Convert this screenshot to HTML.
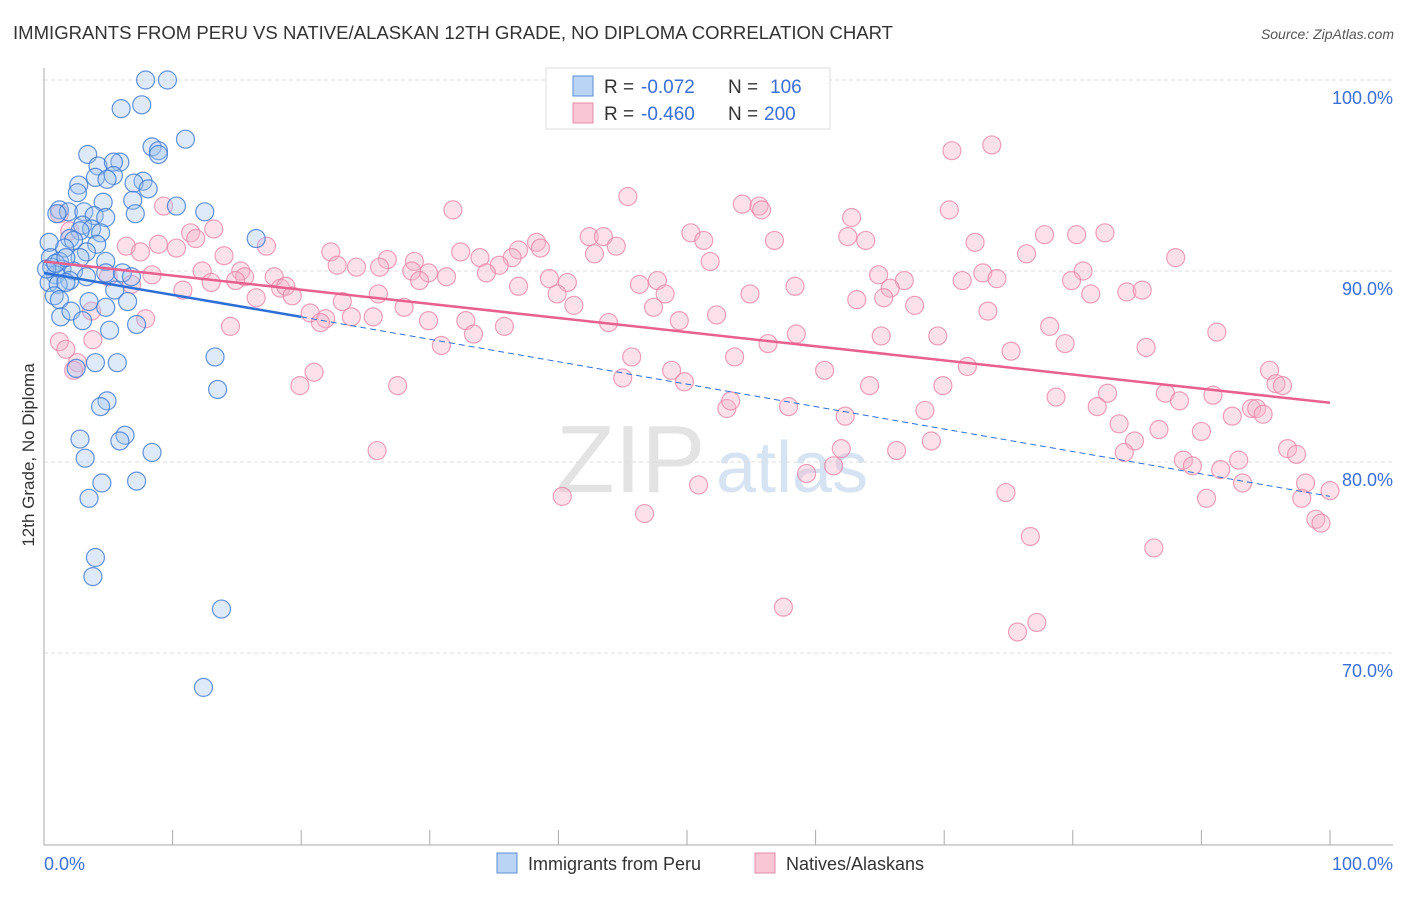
<!DOCTYPE html>
<html><head><meta charset="utf-8"><style>
body{margin:0;background:#fff;font-family:"Liberation Sans",sans-serif;}
svg text{font-family:"Liberation Sans",sans-serif;}
</style></head><body>
<svg id="chart" width="1406" height="892" xmlns="http://www.w3.org/2000/svg">
<text x="13" y="39" font-size="18.5" fill="#333" textLength="880" lengthAdjust="spacingAndGlyphs">IMMIGRANTS FROM PERU VS NATIVE/ALASKAN 12TH GRADE, NO DIPLOMA CORRELATION CHART</text>
<text x="1394" y="39" font-size="14" fill="#555" font-style="italic" text-anchor="end">Source: ZipAtlas.com</text>
<text x="556" y="492" font-size="96" fill="#e3e3e3" font-family="Liberation Serif">ZIP</text>
<text x="716" y="492" font-size="72" fill="#d5e3f3">atlas</text>
<g id="grid"></g>
<g id="axes"></g>
<g id="pink"></g>
<g id="blue"></g>
<g id="trends"></g>
<text transform="translate(34,455) rotate(-90)" font-size="17" fill="#333" text-anchor="middle">12th Grade, No Diploma</text>
<g>
<rect x="546" y="68" width="284" height="61" fill="#fff" stroke="#ddd"/>
<rect x="573" y="76" width="20" height="20" fill="#b9d4f5" stroke="#5b8fd9"/>
<text x="604" y="93" font-size="19" fill="#333">R =</text>
<text x="641" y="93" font-size="19" fill="#3a6fd8">-0.072</text>
<text x="728" y="93" font-size="19" fill="#333">N =</text>
<text x="770" y="93" font-size="19" fill="#3a6fd8">106</text>
<rect x="573" y="103" width="20" height="20" fill="#f9c6d6" stroke="#e48aa8"/>
<text x="604" y="120" font-size="19" fill="#333">R =</text>
<text x="641" y="120" font-size="19" fill="#3a6fd8">-0.460</text>
<text x="728" y="120" font-size="19" fill="#333">N =</text>
<text x="764" y="120" font-size="19" fill="#3a6fd8">200</text>
</g>
<g>
<rect x="497" y="853" width="20" height="20" fill="#b9d4f5" stroke="#5b8fd9"/>
<text x="528" y="870" font-size="18" fill="#333">Immigrants from Peru</text>
<rect x="755" y="853" width="20" height="20" fill="#f9c6d6" stroke="#e48aa8"/>
<text x="786" y="870" font-size="18" fill="#333">Natives/Alaskans</text>
</g>
</svg>
<script>
const yTicks=[100,90,80,70];
const yTickLabels=["100.0%","90.0%","80.0%","70.0%"];
const xTickLabels=["0.0%","100.0%"];
const blueX=[7.9,9.6,6.0,7.6,11.0,8.4,8.9,8.9,3.4,4.2,5.9,5.4,4.0,5.4,4.9,7.7,7.0,8.1,2.7,2.6,6.9,4.6,10.3,12.5,1.2,1.9,3.1,3.9,4.8,7.1,1.0,3.0,3.7,4.4,2.8,2.0,2.3,4.1,1.6,3.3,16.5,0.4,0.5,2.8,4.8,1.2,0.6,1.4,2.3,0.9,3.3,4.8,6.1,6.8,2.0,0.4,1.1,1.7,5.5,0.8,1.2,3.5,6.5,4.8,1.3,2.1,3.0,7.2,5.1,4.0,5.7,2.5,13.3,13.5,4.9,4.4,6.3,5.9,2.8,8.4,3.2,4.5,7.2,3.5,4.0,3.8,13.8,12.4,0.2,0.9,1.7];
const blueY=[100,100,98.5,98.7,96.9,96.5,96.3,96.1,96.1,95.5,95.7,95.7,94.9,95.0,94.8,94.7,94.6,94.3,94.5,94.1,93.7,93.6,93.4,93.1,93.2,93.1,93.1,92.9,92.8,93.0,93.0,92.4,92.2,92.0,92.1,91.7,91.6,91.4,91.2,91.0,91.7,91.5,90.7,90.7,90.5,90.5,90.2,90.1,90.0,89.8,89.7,89.9,89.9,89.7,89.5,89.4,89.3,89.4,89.0,88.7,88.5,88.4,88.4,88.1,87.6,87.9,87.4,87.2,86.9,85.2,85.2,84.9,85.5,83.8,83.2,82.9,81.4,81.1,81.2,80.5,80.2,78.9,79.0,78.1,75.0,74.0,72.3,68.2,90.1,90.4,90.7];
const pinkX=[60.1,70.6,73.7,45.4,31.8,54.3,55.6,55.8,70.4,62.8,9.3,1.2,2.0,13.2,11.4,11.8,50.3,51.3,42.4,43.5,44.5,56.8,62.5,63.9,77.8,80.3,82.5,72.4,76.4,88.0,6.4,8.9,10.3,7.5,17.3,14.0,22.3,38.3,38.6,36.9,32.4,26.7,28.8,33.9,36.4,35.4,42.8,51.8,22.8,24.3,34.4,29.9,28.6,31.3,29.2,39.3,40.7,8.4,12.3,15.3,15.6,17.9,14.9,13.0,6.8,5.0,18.4,18.8,19.3,16.5,10.8,26.0,23.2,28.0,36.9,39.9,41.2,46.3,47.7,48.3,47.4,54.9,58.4,64.9,66.9,65.8,65.3,63.2,71.4,73.0,74.1,80.8,79.9,81.4,84.2,85.4,67.7,73.4,52.3,49.4,43.9,20.7,21.9,23.9,25.6,21.5,14.5,7.9,3.7,3.8,1.2,1.7,29.9,32.8,33.4,35.8,30.9,58.5,56.3,65.1,69.5,78.2,79.4,91.2,85.7,75.2,71.8,53.7,45.7,45.0,48.8,49.8,60.7,21.0,19.9,27.5,2.6,2.3,64.2,69.9,82.7,87.2,88.3,90.9,95.3,95.8,96.3,78.7,81.9,93.9,94.3,94.8,92.4,68.5,62.3,57.9,53.1,53.4,83.6,86.7,90.0,84.8,69.0,66.3,62.0,84.0,88.6,89.3,96.7,97.4,92.9,91.5,61.4,59.3,25.9,50.9,93.2,98.1,100,97.8,90.4,74.8,40.3,46.7,98.9,99.3,76.7,86.3,57.5,77.2,75.7,26.1];
const pinkY=[98.8,96.3,96.6,93.9,93.2,93.5,93.4,93.2,93.2,92.8,93.4,93.0,92.1,92.2,92.0,91.7,92.0,91.6,91.8,91.8,91.3,91.6,91.8,91.6,91.9,91.9,92.0,91.5,90.9,90.7,91.3,91.4,91.2,91.0,91.3,90.8,91.0,91.5,91.2,91.1,91.0,90.6,90.5,90.7,90.7,90.3,90.9,90.5,90.3,90.2,89.9,89.9,90.0,89.7,89.5,89.6,89.4,89.8,90.0,90.0,89.7,89.7,89.5,89.4,89.3,89.7,89.1,89.2,88.7,88.6,89.0,88.8,88.4,88.1,89.2,88.8,88.2,89.3,89.5,88.8,88.1,88.8,89.2,89.8,89.5,89.1,88.6,88.5,89.5,89.9,89.6,90.0,89.5,88.8,88.9,89.0,88.2,87.9,87.7,87.4,87.3,87.8,87.5,87.6,87.6,87.3,87.1,87.5,87.9,86.4,86.3,85.9,87.4,87.4,86.7,87.1,86.1,86.7,86.2,86.6,86.6,87.1,86.2,86.8,86.0,85.8,85.0,85.5,85.5,84.4,84.8,84.2,84.8,84.7,84.0,84.0,85.2,84.8,84.0,84.0,83.6,83.6,83.2,83.5,84.8,84.1,84.0,83.4,82.9,82.8,82.8,82.5,82.4,82.7,82.4,82.9,82.8,83.2,82.0,81.7,81.6,81.1,81.1,80.6,80.7,80.5,80.1,79.8,80.7,80.4,80.1,79.6,79.8,79.4,80.6,78.8,78.9,78.9,78.5,78.1,78.1,78.4,78.2,77.3,77.0,76.8,76.1,75.5,72.4,71.6,71.1,90.2];
const blueTrend=[[0,89.9],[20,87.6],[100,78.2]];
const pinkTrend=[[0,90.5],[100,83.1]];
const NS="http://www.w3.org/2000/svg";
const X0=44,X1=1330,Y100=80,PX10=19.1;
function xs(v){return X0+(X1-X0)*v/100;}
function ys(v){return Y100+(100-v)*PX10;}
function mk(tag,attrs,parent){const e=document.createElementNS(NS,tag);for(const k in attrs)e.setAttribute(k,attrs[k]);parent.appendChild(e);return e;}
const grid=document.getElementById('grid'),axes=document.getElementById('axes');
yTicks.forEach((t,i)=>{
 const l=mk('line',{x1:44,x2:1393,y1:ys(t),y2:ys(t),stroke:'#ddd','stroke-dasharray':'4,3'},grid);
 
 
 const tx=mk('text',{x:1393,y:ys(t)+24,'font-size':18,fill:'#3a6fd8','text-anchor':'end'},axes);
 tx.textContent=yTickLabels[i];
 
 
});
const ya=mk('line',{x1:44,x2:44,y1:68,y2:845,stroke:'#aaa'},axes);


const xa=mk('line',{x1:44,x2:1393,y1:845,y2:845,stroke:'#aaa'},axes);


for(let i=0;i<=10;i++){
 const t=mk('line',{x1:xs(i*10),x2:xs(i*10),y1:830,y2:845,stroke:'#aaa'},axes);
 
 
}
[[0,'start',44],[1,'end',1393]].forEach(([i,a,x])=>{
 const tx=mk('text',{x:x,y:870,'font-size':18,fill:'#3a6fd8','text-anchor':a},axes);
 tx.textContent=xTickLabels[i];
 
 
});
const pg=document.getElementById('pink'),bg=document.getElementById('blue');
pinkX.forEach((v,i)=>{
 const c=mk('circle',{cx:xs(v),cy:ys(pinkY[i]),r:9,fill:'rgba(248,180,202,0.4)',stroke:'rgba(232,130,165,0.75)','stroke-width':1.2},pg);
 
 
});
blueX.forEach((v,i)=>{
 const c=mk('circle',{cx:xs(v),cy:ys(blueY[i]),r:9,fill:'rgba(160,196,240,0.35)',stroke:'rgba(60,120,210,0.8)','stroke-width':1.2},bg);
 
 
});
const tg=document.getElementById('trends');
const b1=mk('line',{x1:xs(blueTrend[0][0]),y1:ys(blueTrend[0][1]),x2:xs(blueTrend[1][0]),y2:ys(blueTrend[1][1]),stroke:'#2d6fd6','stroke-width':2.5},tg);


const b2=mk('line',{x1:xs(blueTrend[1][0]),y1:ys(blueTrend[1][1]),x2:xs(blueTrend[2][0]),y2:ys(blueTrend[2][1]),stroke:'#2d6fd6','stroke-width':1,'stroke-dasharray':'6,4'},tg);


const p1=mk('line',{x1:xs(pinkTrend[0][0]),y1:ys(pinkTrend[0][1]),x2:xs(pinkTrend[1][0]),y2:ys(pinkTrend[1][1]),stroke:'#e8608e','stroke-width':2.5},tg);


</script>
</body></html>
